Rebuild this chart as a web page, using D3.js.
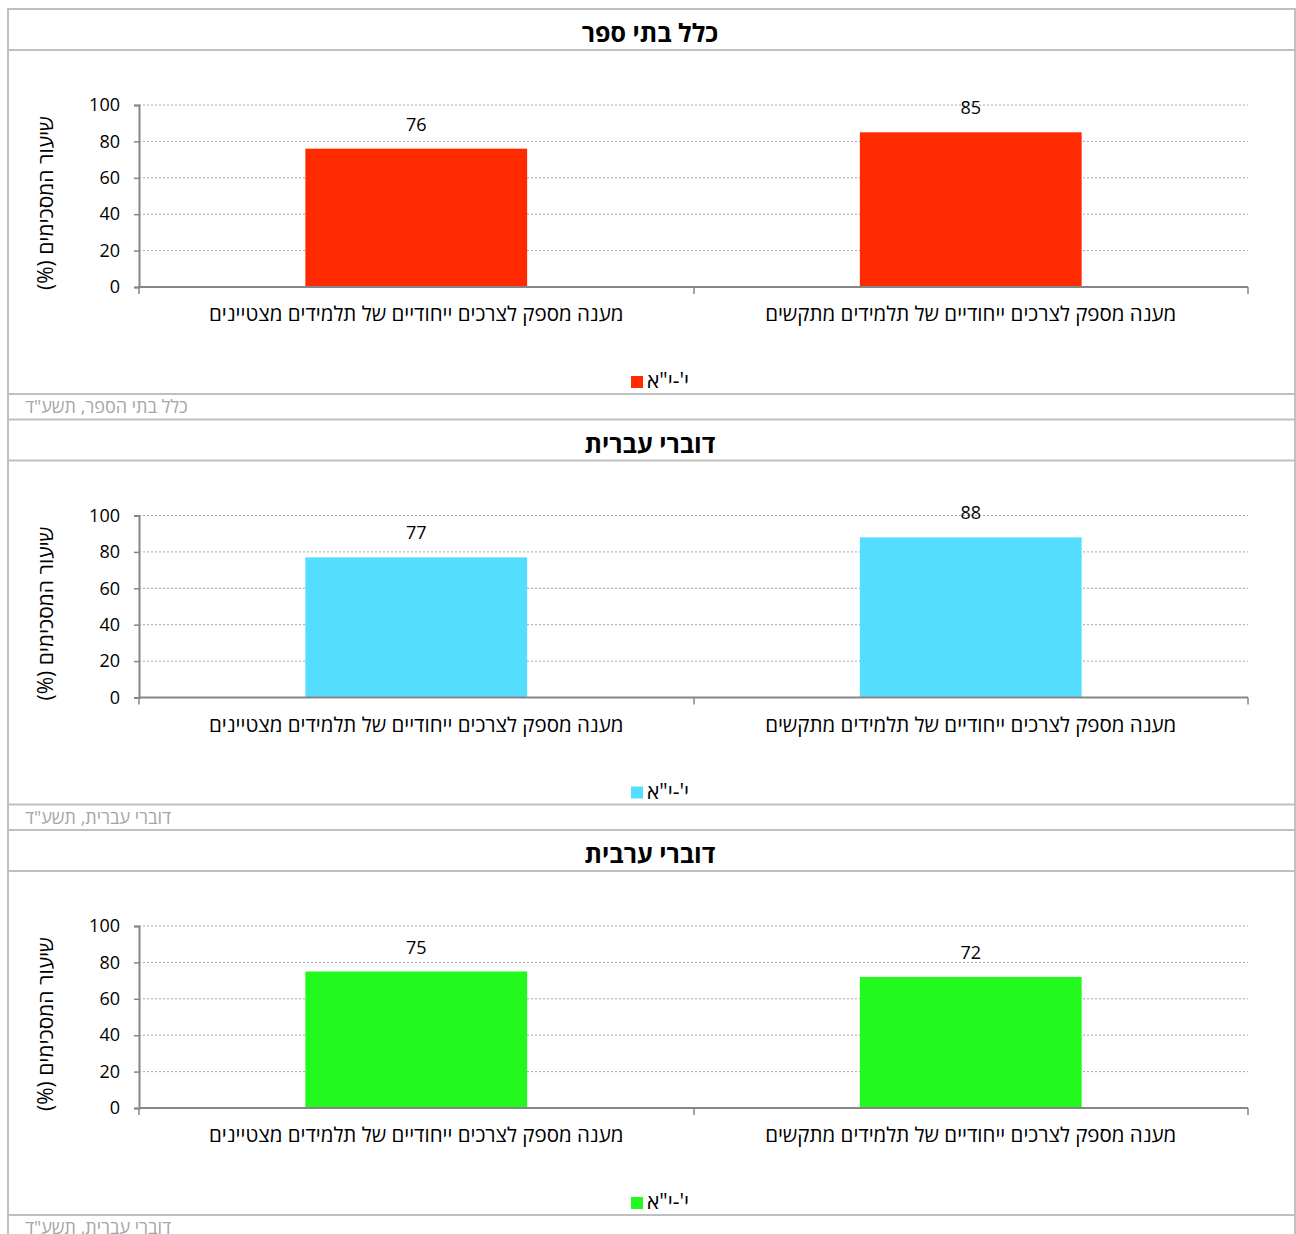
<!DOCTYPE html>
<html><head><meta charset="utf-8">
<script src="https://cdn.jsdelivr.net/npm/d3@7"></script>
<style>
html,body{margin:0;padding:0;background:#fff;}
svg{display:block;}
text{font-family:"Open Sans","Liberation Sans","DejaVu Sans",sans-serif;}
</style></head>
<body>
<div id="chart"></div>
<script>
const categories = ["מענה מספק לצרכים ייחודיים של תלמידים מצטיינים", "מענה מספק לצרכים ייחודיים של תלמידים מתקשים"];
const panelTitles = ["כלל בתי ספר", "דוברי עברית", "דוברי ערבית"];
const footers = ["כלל בתי הספר, תשע\"ד", "דוברי עברית, תשע\"ד", "דוברי עברית, תשע\"ד"];
const seriesName = "י'-י\"א";
const valuesAll = [76, 85];
const valuesHebrew = [77, 88];
const valuesArabic = [75, 72];
const panelValues = [valuesAll, valuesHebrew, valuesArabic];
const panelColors = ["#ff2a00", "#55ddff", "#22f91c"];
const yTicks = [0, 20, 40, 60, 80, 100];
const yTitle = "שיעור המסכימים (%)";

const W = 1296, H = 1234;
const svg = d3.select("#chart").append("svg").attr("width", W).attr("height", H);
const border = "#bfbfbf";
const left = 8, right = 1295;
const period = 410.5;

const x = d3.scaleBand().domain(categories).range([139, 1248]).padding(0);

panelValues.forEach((vals, i) => {
  const top = 9 + i * period;
  const g = svg.append("g");
  // frame lines
  g.append("line").attr("x1", left).attr("x2", right).attr("y1", top).attr("y2", top).attr("stroke", border).attr("stroke-width", 2);
  g.append("line").attr("x1", left).attr("x2", right).attr("y1", top + 41).attr("y2", top + 41).attr("stroke", border).attr("stroke-width", 2);
  g.append("line").attr("x1", left).attr("x2", right).attr("y1", top + 385).attr("y2", top + 385).attr("stroke", border).attr("stroke-width", 2);
  // title
  g.append("text").attr("x", 650).attr("y", top + 33).attr("text-anchor", "middle").attr("direction", "rtl")
    .attr("font-size", 25).attr("font-weight", "bold").attr("fill", "#000").text(panelTitles[i]);

  const y = d3.scaleLinear().domain([0, 100]).range([top + 278, top + 96]);
  // gridlines
  g.append("g").selectAll("line").data(yTicks.filter(t => t > 0)).join("line")
    .attr("x1", 139).attr("x2", 1248).attr("y1", d => y(d)).attr("y2", d => y(d))
    .attr("stroke", "#a6a6a6").attr("stroke-width", 1).attr("stroke-dasharray", "2,2");

  // y axis
  const ya = g.append("g").attr("transform", "translate(139,0)")
    .call(d3.axisLeft(y).tickValues(yTicks).tickSize(5).tickPadding(14));
  ya.select(".domain").attr("stroke", "#868686").attr("stroke-width", 2);
  ya.selectAll(".tick line").attr("stroke", "#868686").attr("stroke-width", 1.5);
  ya.selectAll(".tick text").attr("font-size", 18).attr("fill", "#000")
    .style("font-family", "\"Open Sans\",sans-serif");

  // bars
  const bw = x.bandwidth() * 0.4;
  g.append("g").selectAll("rect").data(vals).join("rect")
    .attr("x", (d, j) => x(categories[j]) + (x.bandwidth() - bw) / 2)
    .attr("width", bw)
    .attr("y", d => y(d)).attr("height", d => y(0) - y(d))
    .attr("fill", panelColors[i]);
  // value labels
  g.append("g").selectAll("text").data(vals).join("text")
    .attr("x", (d, j) => x(categories[j]) + x.bandwidth() / 2)
    .attr("y", d => y(d) - 18)
    .attr("text-anchor", "middle").attr("font-size", 18).attr("fill", "#000").text(d => d);

  // x axis
  const xa = g.append("g").attr("transform", `translate(0,${y(0)})`)
    .call(d3.axisBottom(x).tickSize(0).tickPadding(0).tickFormat(""));
  xa.select(".domain").attr("stroke", "#868686").attr("stroke-width", 2).attr("d", `M139,0H1248`);
  xa.selectAll(".tick").remove();
  xa.selectAll("line.sep").data([139, 694, 1248]).join("line").attr("class", "sep")
    .attr("x1", d => d).attr("x2", d => d).attr("y1", 0).attr("y2", 7)
    .attr("stroke", "#868686").attr("stroke-width", 1.5);
  g.append("g").selectAll("text").data(categories).join("text")
    .attr("x", d => x(d) + x.bandwidth() / 2).attr("y", top + 312)
    .attr("text-anchor", "middle").attr("direction", "rtl").attr("font-size", 20.5).attr("fill", "#000").text(d => d);

  // y title
  g.append("text").attr("transform", `translate(53,${top + 194}) rotate(-90)`)
    .attr("text-anchor", "middle").attr("direction", "rtl").attr("font-size", 21).attr("fill", "#000").text(yTitle);

  // legend
  g.append("rect").attr("x", 631).attr("y", top + 367).attr("width", 12).attr("height", 12).attr("fill", panelColors[i]);
  g.append("text").attr("x", 647).attr("y", top + 379).attr("text-anchor", "end").attr("direction", "rtl")
    .attr("font-size", 21).attr("fill", "#000").text(seriesName);

  // footer
  g.append("text").attr("x", 25).attr("y", top + 404).attr("text-anchor", "end").attr("direction", "rtl")
    .attr("font-size", 18).attr("fill", "#a6a6a6").text(footers[i]);
});
// outer verticals
svg.append("line").attr("x1", left).attr("x2", left).attr("y1", 8).attr("y2", H).attr("stroke", border).attr("stroke-width", 2);
svg.append("line").attr("x1", right).attr("x2", right).attr("y1", 8).attr("y2", H).attr("stroke", border).attr("stroke-width", 2);
</script>
</body></html>
